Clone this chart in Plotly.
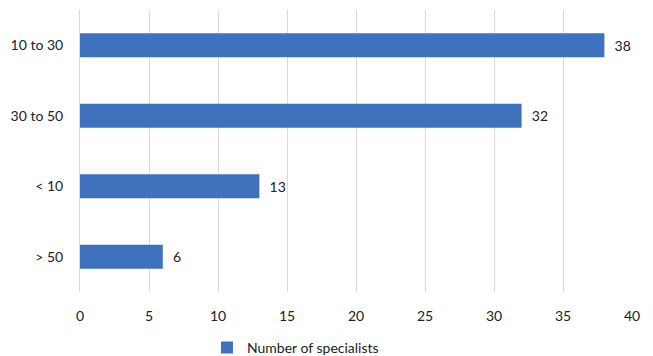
import plotly.graph_objects as go

categories = ["10 to 30", "30 to 50", "< 10", "> 50"]
values = [38, 32, 13, 6]
series_name = "Number of specialists"
x_ticks = [0, 5, 10, 15, 20, 25, 30, 35, 40]

fig = go.Figure()
fig.add_trace(go.Bar(
    y=categories, x=values, orientation="h", name=series_name,
    marker=dict(color="#3F72BD", line=dict(width=0)),
    text=["  " + str(v) for v in values], textposition="outside",
    textfont=dict(size=14, color="#222222"), cliponaxis=False,
))

fig.update_layout(
    width=653, height=356,
    margin=dict(l=80, r=21, t=10, b=64, autoexpand=False),
    paper_bgcolor="white", plot_bgcolor="white",
    font=dict(family="Lato, Carlito, sans-serif", size=14, color="#222222"),
    bargap=0.66,
    showlegend=True,
    legend=dict(orientation="h", x=0.23, xanchor="left", yref="paper", y=-0.198,
                yanchor="middle", font=dict(size=14), itemwidth=30),
    xaxis=dict(range=[0, 40], tickvals=x_ticks, showgrid=True, gridcolor="#D9D9D9",
               gridwidth=1, zeroline=False, showline=False, ticks="", ticklabelstandoff=14,
               tickfont=dict(size=14), automargin=False),
    yaxis=dict(categoryorder="array", categoryarray=categories[::-1],
               showline=True, linecolor="#D9D9D9", ticks="", ticklabelstandoff=13,
               tickfont=dict(size=14), automargin=False),
)

fig.write_html("out.html")
